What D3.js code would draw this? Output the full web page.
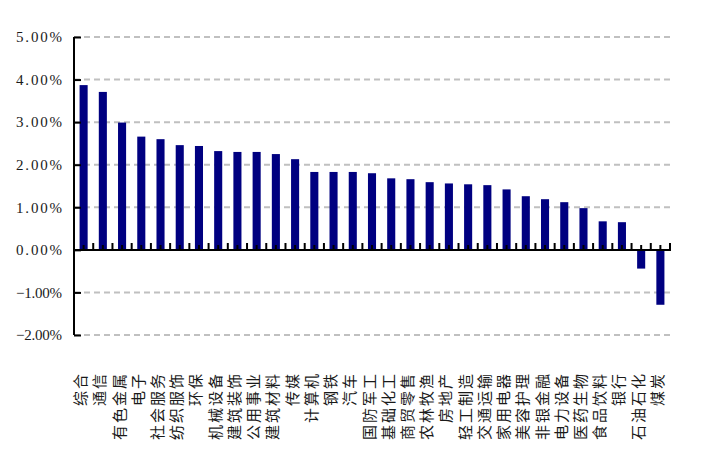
<!DOCTYPE html>
<html><head><meta charset="utf-8">
<script src="https://cdn.jsdelivr.net/npm/d3@7"></script>
<style>body{margin:0;background:#fff}svg{display:block}</style>
</head><body>
<script>
const categories = ["综合","通信","有色金属","电子","社会服务","纺织服饰","环保","机械设备","建筑装饰","公用事业","建筑材料","传媒","计算机","钢铁","汽车","国防军工","基础化工","商贸零售","农林牧渔","房地产","轻工制造","交通运输","家用电器","美容护理","非银金融","电力设备","医药生物","食品饮料","银行","石油石化","煤炭"];
const values = [3.87,3.71,2.99,2.66,2.60,2.46,2.44,2.32,2.30,2.30,2.25,2.13,1.83,1.83,1.83,1.80,1.68,1.66,1.59,1.56,1.54,1.52,1.42,1.26,1.19,1.12,0.98,0.67,0.65,-0.44,-1.29];
const yTicks = [-2,-1,0,1,2,3,4,5];

const W = 708, H = 461;
const svg = d3.select("body").append("svg").attr("width", W).attr("height", H);
const x = d3.scaleBand().domain(categories).range([74, 670]).paddingInner(0.58).paddingOuter(0.29);
const xb = d3.scaleBand().domain(categories).range([74, 670]);
const y = d3.scaleLinear().domain([-2, 5]).range([335, 37]);

// gridlines
svg.append("g").selectAll("line").data(yTicks.filter(d => d !== 0)).join("line")
  .attr("x1", 74).attr("x2", 670).attr("y1", d => y(d)).attr("y2", d => y(d))
  .attr("stroke", "#c0c0c0").attr("stroke-width", 2).attr("stroke-dasharray", "6,4");

// bars
svg.append("g").selectAll("rect").data(values).join("rect")
  .attr("x", (d, i) => x(categories[i]))
  .attr("width", x.bandwidth())
  .attr("y", d => y(Math.max(0, d)))
  .attr("height", d => Math.abs(y(d) - y(0)))
  .attr("fill", "#000080");

// y axis
const yAxis = d3.axisLeft(y).tickValues(yTicks).tickSize(-7).tickPadding(18)
  .tickFormat(d => d3.format(".2f")(d) + "%");
const gy = svg.append("g").attr("transform", "translate(74,0)").call(yAxis);
gy.select(".domain").attr("stroke", "#000").attr("stroke-width", 2).attr("d", `M0,${y(5)}V${y(-2)}`);
gy.selectAll(".tick line").attr("stroke", "#000").attr("stroke-width", 2).attr("x1", 0).attr("x2", 7);
gy.selectAll(".tick text").attr("x", -12)
  .style("font-family", "'Liberation Serif', serif").style("font-size", "15px").attr("fill", "#1a1a1a")
  .attr("textLength", 46).attr("lengthAdjust", "spacing");

// x axis line at zero
const y0 = Math.round(y(0));
svg.append("line").attr("x1", 73).attr("x2", 671).attr("y1", y0).attr("y2", y0)
  .attr("stroke", "#000").attr("stroke-width", 2);
// tall ticks at boundaries
const bounds = categories.map(c => xb(c) + xb.bandwidth());
svg.append("g").selectAll("line").data(bounds).join("line")
  .attr("x1", d => d).attr("x2", d => d).attr("y1", y0 - 7).attr("y2", y0)
  .attr("stroke", "#000").attr("stroke-width", 2);
// short ticks at centers
svg.append("g").selectAll("line").data(categories).join("line")
  .attr("x1", d => xb(d) + xb.bandwidth() / 2).attr("x2", d => xb(d) + xb.bandwidth() / 2)
  .attr("y1", y0 - 5).attr("y2", y0)
  .attr("stroke", "#000").attr("stroke-width", 2);

// category labels
svg.append("g").selectAll("text").data(categories).join("text")
  .attr("transform", d => `translate(${xb(d) + xb.bandwidth() / 2 - 4},372) rotate(-90)`)
  .attr("text-anchor", "end").attr("dominant-baseline", "central")
  .style("font-family", "'Noto Sans CJK SC', sans-serif").style("font-size", "15px")
  .style("letter-spacing", "2px")
  .attr("fill", "#1a1a1a")
  .text(d => d);
</script>
</body></html>
